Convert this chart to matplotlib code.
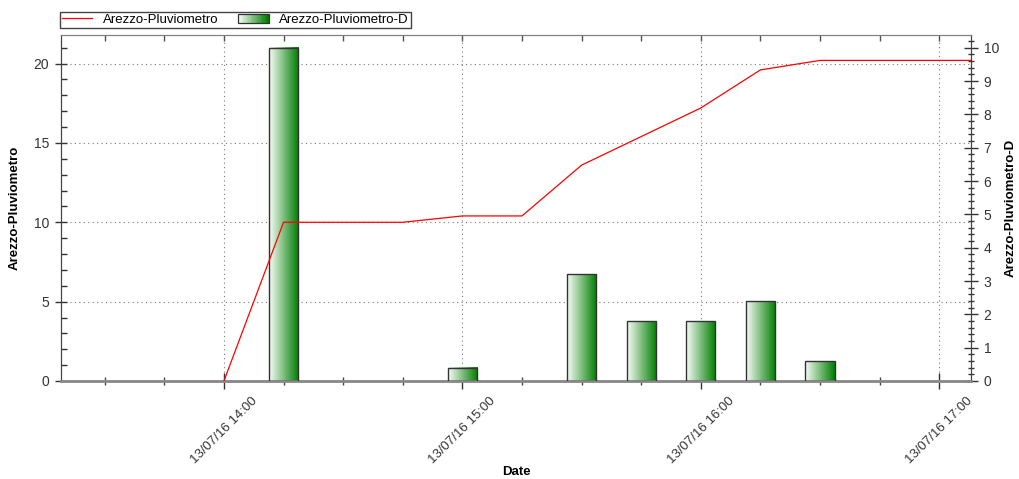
import numpy as np
import pandas as pd
import matplotlib
matplotlib.use('Agg')
import matplotlib.pyplot as plt
import matplotlib.dates as mdates
import matplotlib.ticker as mticker
from matplotlib.colors import LinearSegmentedColormap
from matplotlib.legend_handler import HandlerBase
from matplotlib.patches import Rectangle

plt.rcParams['font.family'] = ['Liberation Sans', 'DejaVu Sans']

# cumulative rain gauge, every 15 minutes
times = ['2016-07-13 14:00', '2016-07-13 14:15', '2016-07-13 14:30', '2016-07-13 14:45',
         '2016-07-13 15:00', '2016-07-13 15:15', '2016-07-13 15:30', '2016-07-13 15:45',
         '2016-07-13 16:00', '2016-07-13 16:15', '2016-07-13 16:30', '2016-07-13 16:45',
         '2016-07-13 17:00', '2016-07-13 17:15']
cumulative = [0.0, 10.0, 10.0, 10.0, 10.4, 10.4, 13.6, 15.4, 17.2, 19.6, 20.2, 20.2, 20.2, 20.2]

# rain per interval
bar_times = ['2016-07-13 14:15', '2016-07-13 15:00', '2016-07-13 15:30', '2016-07-13 15:45',
             '2016-07-13 16:00', '2016-07-13 16:15', '2016-07-13 16:30']
bar_values = [10.0, 0.4, 3.2, 1.8, 1.8, 2.4, 0.6]

label_line = 'Arezzo-Pluviometro'
label_bar = 'Arezzo-Pluviometro-D'

t = pd.to_datetime(times)
tb = pd.to_datetime(bar_times)

green = LinearSegmentedColormap.from_list('grad', ['#f8fcf8', '#007d00'])
text_color = '#333333'


class GradientHandler(HandlerBase):
    def create_artists(self, legend, orig_handle, xdescent, ydescent,
                       width, height, fontsize, trans):
        n = 24
        arts = []
        for i in range(n):
            r = Rectangle((-xdescent + i * width / n, -ydescent), width / n + 0.3, height,
                          facecolor=green(i / (n - 1)), edgecolor='none', transform=trans)
            arts.append(r)
        arts.append(Rectangle((-xdescent, -ydescent), width, height, fill=False,
                              edgecolor='#333333', linewidth=0.9, transform=trans))
        return arts


fig = plt.figure(figsize=(10.2, 4.79), dpi=100)
ax = fig.add_axes([61 / 1020, 1 - 381 / 479, 910 / 1020, 346 / 479])
ax2 = ax.twinx()

bars = ax2.bar(tb, bar_values, width=7.3 / 1440, facecolor='none',
               edgecolor='#333333', linewidth=1.0, zorder=3)
grad = np.linspace(0, 1, 128).reshape(1, -1)
for b in bars:
    ax2.imshow(grad, cmap=green, aspect='auto', interpolation='bilinear', zorder=2,
               extent=(b.get_x(), b.get_x() + b.get_width(), 0, b.get_height()))

line, = ax2.plot(t, cumulative, color='#ff0000', linewidth=0.9,
                 transform=ax.transData, zorder=4)

ax.set_xlim(pd.Timestamp('2016-07-13 13:19'), pd.Timestamp('2016-07-13 17:08'))
ax.set_ylim(0, 21.8)
ax2.set_ylim(0, 10.38)

ax.xaxis.set_major_locator(mdates.HourLocator())
ax.xaxis.set_minor_locator(mdates.MinuteLocator(byminute=[0, 15, 30, 45]))
ax.xaxis.set_major_formatter(mdates.DateFormatter('%d/%m/%y %H:%M'))
ax.yaxis.set_major_locator(mticker.MultipleLocator(5))
ax.yaxis.set_minor_locator(mticker.MultipleLocator(1))
ax2.yaxis.set_major_locator(mticker.MultipleLocator(1))
ax2.yaxis.set_minor_locator(mticker.MultipleLocator(0.2))

for lab in ax.get_xticklabels():
    lab.set_rotation(45)

ax.grid(which='major', linestyle=(0, (1, 3)), color='#7a7a7a', linewidth=0.8)

ax.tick_params(axis='x', which='major', direction='inout', length=12, width=1,
               color='#333333', labelsize=9.5, labelcolor=text_color, pad=4)
ax.tick_params(axis='x', which='minor', direction='inout', length=6, width=1, color='#444444')
ax.tick_params(axis='y', which='major', direction='inout', length=9, width=1,
               color='#333333', labelsize=10, labelcolor=text_color, pad=4)
ax.tick_params(axis='y', which='minor', direction='in', length=4, width=1, color='#333333')
ax2.tick_params(axis='y', which='major', direction='inout', length=10, width=1,
                color='#333333', labelsize=10, labelcolor=text_color, pad=4)
ax2.tick_params(axis='y', which='minor', direction='inout', length=5, width=1, color='#333333')

# top ticks pointing down
ax2.xaxis.set_visible(True)
ax2.xaxis.tick_top()
ax2.tick_params(axis='x', which='both', direction='in', length=4, width=1,
                color='#555555', labeltop=False, labelbottom=False)

for a in (ax, ax2):
    a.spines['top'].set_color('#808080')
    a.spines['bottom'].set_color('#8a8a8a')
    a.spines['bottom'].set_linewidth(1.8)
    a.spines['left'].set_color('#444444')
    a.spines['right'].set_color('#444444')

ax.set_ylabel(label_line, fontsize=9.5, fontweight='bold')
ax.yaxis.set_label_coords(-0.044, 0.5)
ax2.set_ylabel(label_bar, fontsize=9.5, fontweight='bold', rotation=90)
ax2.yaxis.set_label_coords(1.037, 0.5)
ax.set_xlabel('Date', fontsize=9.5, fontweight='bold')
ax.xaxis.set_label_coords(0.5, -0.245)

proxy = Rectangle((0, 0), 1, 1)
leg = fig.legend([line, proxy], [label_line, label_bar], loc='lower left',
                 bbox_to_anchor=(60 / 1020, 1 - 28 / 479), ncol=2, fontsize=9.5,
                 frameon=True, fancybox=False, edgecolor='#444444', framealpha=1,
                 borderpad=0.15, borderaxespad=0, handlelength=2.3, handletextpad=0.8,
                 columnspacing=1.5, handler_map={proxy: GradientHandler()})
leg.get_frame().set_linewidth(1.0)

fig.savefig('out.png', dpi=100)
